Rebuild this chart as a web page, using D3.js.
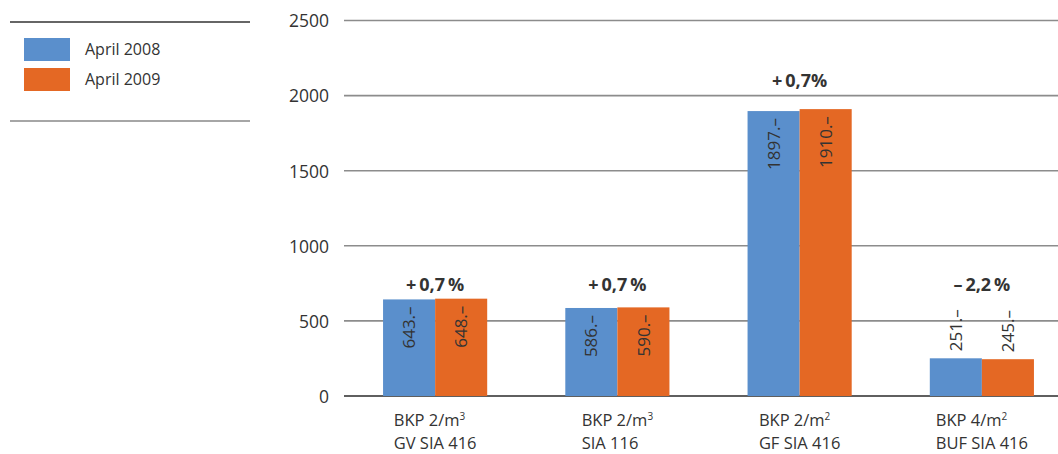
<!DOCTYPE html>
<html>
<head>
<meta charset="utf-8">
<script src="https://cdn.jsdelivr.net/npm/d3@7"></script>
<style>
  html, body { margin: 0; padding: 0; background: #fff; }
  svg { display: block; font-family: "Open Sans", "Noto Sans", sans-serif; }
</style>
</head>
<body>
<svg id="chart" width="1058" height="454"></svg>
<script>
// Building cost index per unit (BKP groups), April 2008 vs April 2009
const categoryLines = [
  ["BKP 2/m³", "GV SIA 416"],
  ["BKP 2/m³", "SIA 116"],
  ["BKP 2/m²", "GF SIA 416"],
  ["BKP 4/m²", "BUF SIA 416"]
];
const seriesNames = ["April 2008", "April 2009"];
const values2008 = [643, 586, 1897, 251];
const values2009 = [648, 590, 1910, 245];
const changeLabels = ["+\u20090,7\u2009%", "+\u20090,7\u2009%", "+\u20090,7%", "–\u20092,2\u2009%"];
const yTicks = [0, 500, 1000, 1500, 2000, 2500];

const colors = ["#5a8fcc", "#e46824"];
const textColor = "#333";

const svg = d3.select("#chart");

const categories = categoryLines.map((_, i) => "c" + i);
const groups = categories.map((c, i) => ({
  key: c,
  lines: categoryLines[i],
  values: [values2008[i], values2009[i]],
  change: changeLabels[i]
}));

// Scales
const x = d3.scaleBand().domain(categories).range([344, 1073]).padding(0);
const xInner = d3.scaleBand().domain(seriesNames).range([0, x.bandwidth()])
  .paddingInner(0).paddingOuter(0.75);
const y = d3.scaleLinear().domain([0, 2500]).range([396, 20.5]);

// Horizontal grid lines
svg.append("g").selectAll("line")
  .data(yTicks)
  .join("line")
  .attr("x1", 344).attr("x2", 1058)
  .attr("y1", d => y(d)).attr("y2", d => y(d))
  .attr("stroke", d => d === 0 ? "#2a2a2a" : "#8c8c8c")
  .attr("stroke-width", 1.6);

// Y axis labels
const yAxis = d3.axisLeft(y).tickValues(yTicks).tickSize(0).tickPadding(0)
  .tickFormat(d3.format("d"));
svg.append("g")
  .attr("transform", "translate(329,0)")
  .call(yAxis)
  .call(g => g.select(".domain").remove())
  .call(g => g.selectAll("text")
    .attr("fill", textColor)
    .attr("font-size", "17.5px")
    .attr("font-family", "'Open Sans', 'Noto Sans', sans-serif")
    .attr("dy", "0.36em"));

// Bars
const groupG = svg.append("g").selectAll("g")
  .data(groups)
  .join("g")
  .attr("transform", d => `translate(${x(d.key)},0)`);

groupG.selectAll("rect")
  .data(d => d.values.map((v, j) => ({ v, s: seriesNames[j], j })))
  .join("rect")
  .attr("x", d => xInner(d.s))
  .attr("width", xInner.bandwidth())
  .attr("y", d => y(d.v))
  .attr("height", d => y(0) - y(d.v))
  .attr("fill", d => colors[d.j]);

// Value labels, rotated; inside the bar if there is room, otherwise above it
groupG.selectAll("text.val")
  .data(d => d.values.map((v, j) => ({ v, s: seriesNames[j], j })))
  .join("text")
  .attr("class", "val")
  .each(function (d) {
    const inside = (y(0) - y(d.v)) > 70;
    const cx = xInner(d.s) + xInner.bandwidth() / 2;
    const top = y(d.v);
    const ty = inside ? top + 7 : top - 7;
    d3.select(this)
      .attr("transform", `translate(${cx},${ty}) rotate(-90)`)
      .attr("text-anchor", inside ? "end" : "start")
      .attr("dy", "0.36em");
  })
  .attr("fill", textColor)
  .attr("font-size", "17px")
  .text(d => d.v + ".–");

// Change labels above each group
groupG.append("text")
  .attr("x", x.bandwidth() / 2)
  .attr("y", d => {
    const m = d3.max(d.values);
    return m > 1000 ? y(m) - 22 : y(700);
  })
  .attr("text-anchor", "middle")
  .attr("font-weight", "bold")
  .attr("font-size", "18px")
  .attr("fill", textColor)
  .text(d => d.change);

// Category labels: two left-aligned lines, block centred under the group
groupG.each(function (d) {
  const g = d3.select(this);
  const texts = d.lines.map((line, k) => {
    const t = g.append("text")
      .attr("y", 426 + k * 22.5)
      .attr("fill", textColor)
      .attr("font-size", "16.5px");
    const m = line.match(/^(.*)([²³])$/);
    if (m) {
      t.append("tspan").text(m[1]);
      t.append("tspan").text(m[2] === "²" ? "2" : "3")
        .attr("font-size", "10px").attr("dy", "-6.5");
    } else {
      t.text(line);
    }
    return t;
  });
  const widths = texts.map(t => t.node().getComputedTextLength());
  const left = x.bandwidth() / 2 - d3.max(widths) / 2;
  texts.forEach(t => t.attr("x", left));
});

// Legend
const legend = svg.append("g");
legend.append("line").attr("x1", 10).attr("x2", 250).attr("y1", 22).attr("y2", 22)
  .attr("stroke", "#333").attr("stroke-width", 1.3);
legend.append("line").attr("x1", 10).attr("x2", 250).attr("y1", 121).attr("y2", 121)
  .attr("stroke", "#888").attr("stroke-width", 1.3);
const items = legend.selectAll("g.item")
  .data(seriesNames)
  .join("g")
  .attr("class", "item")
  .attr("transform", (d, i) => `translate(24,${38 + i * 30})`);
items.append("rect").attr("width", 46).attr("height", 23)
  .attr("fill", (d, i) => colors[i]);
items.append("text").attr("x", 61).attr("y", 17)
  .attr("fill", textColor).attr("font-size", "16px")
  .text(d => d);
</script>
</body>
</html>
